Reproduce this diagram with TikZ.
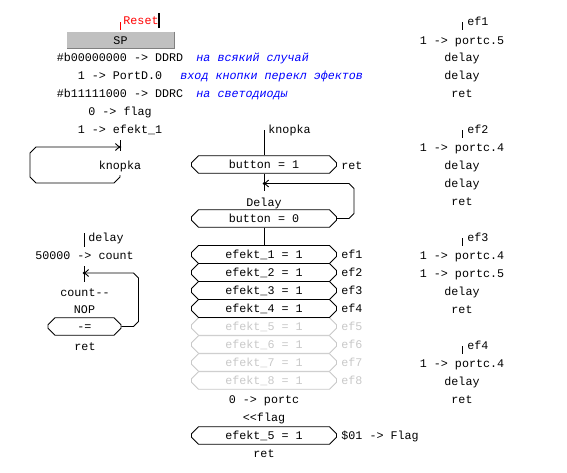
\documentclass[tikz,border=0pt]{standalone}
\usepackage{fontspec}
\setmonofont{Liberation Mono}
\usetikzlibrary{arrows.meta,positioning,shapes.misc}

\definecolor{spgray}{RGB}{192,192,192}
\definecolor{offgray}{RGB}{200,200,200}

\begin{document}
\begin{tikzpicture}[
    x=1pt, y=-1pt, line width=0.9pt,
    every node/.style={font=\ttfamily\fontsize{11.7}{14}\selectfont,
                       inner sep=0pt,text height=9.5pt,text depth=1pt},
    cmt/.style={anchor=west,text=blue,font=\ttfamily\itshape\fontsize{11.7}{14}\selectfont},
    lbl/.style={anchor=west},
    cond/.style={draw,chamfered rectangle,chamfered rectangle sep=3.5pt,
                 minimum width=145pt,minimum height=17pt},
    off/.style={draw=offgray,text=offgray},
    jump/.style={-{Straight Barb[length=4pt,width=7pt]}},
    jdot/.style={circle,fill,inner sep=0pt,minimum size=2.6pt,
                 text height=0pt,text depth=0pt},
  ]
  \useasboundingbox (0,0) rectangle (567,472);

  % reset entry
  \coordinate (rst) at (120,22);
  \draw[red] (rst) -- ++(0,8);
  \node[lbl,text=red] (reset) at (123,20) {Reset};
  \draw[line width=2pt] (159,13) -- (159,28);
  \node[fill=spgray,minimum width=107pt,minimum height=16pt] (sp) at (120.5,40) {SP};
  \draw[gray] (sp.north east) -- (sp.south east) -- (sp.south west);

  % init
  \node (i1) at (120,57)  {\#b00000000 -> DDRD};
  \node (i2) at (120,75)  {1 -> PortD.0};
  \node (i3) at (120,93)  {\#b11111000 -> DDRC};
  \node (i4) at (120,111) {0 -> flag};
  \node (i5) at (120,129) {1 -> efekt\_1};
  \node[cmt] (c1) at (196,57) {на всякий случай};
  \node[cmt] (c2) at (180,75) {вход кнопки перекл эфектов};
  \node[cmt] (c3) at (196,93) {на светодиоды};

  % main loop
  \coordinate (kt) at (120,140);
  \coordinate (ka) at (120,147);
  \coordinate (kb) at (120,175);
  \node (kcall) at (120,165) {knopka};
  \draw (kt) -- ++(0,11);
  \draw[jump] (kb) -- ++(0,2) -- ++(-6,6) -- (36,183) -- ++(-6,-6)
              -- (30,153) -- ++(6,-6) -- (ka);
  \node[jdot] (kd) at (ka) {};

  % knopka
  \node[lbl] (knopka) at (268,129) {knopka};
  \node[cond] (b1) at (264,164.5) {button = 1};
  \node[lbl] (ret1) at (341,165) {ret};
  \coordinate (bt) at (264,130);
  \coordinate (ba) at (264,183.5);
  \draw (bt) -- (b1.north);
  \draw (b1.south) -- ++(0,17);
  \node (dly) at (264,202) {Delay};
  \node[cond] (b0) at (264,218.5) {button = 0};
  \draw[jump] (b0.east) -- ++(12,0) -- ++(5,-5) -- ++(0,-25) -- ++(-5,-5) -- (ba);
  \node[jdot] (bd) at (ba) {};

  % effect switch
  \foreach \i in {8,7,6,5} {
    \node[cond,off] (e\i) at (264,{254.5+18*(\i-1)}) {efekt\_\i{} = 1};
    \node[lbl,text=offgray] (m\i) at (341,{254.5+18*(\i-1)}) {ef\i};
  }
  \foreach \i in {4,3,2,1} {
    \node[cond,minimum height=18pt] (e\i) at (264,{254.5+18*(\i-1)}) {efekt\_\i{} = 1};
    \node[lbl] (m\i) at (341,{254.5+18*(\i-1)}) {ef\i};
  }
  \draw (b0.south) -- (e1.north);
  \node (p0) at (264,399) {0 -> portc};
  \node (shl) at (264,417) {<<flag};
  \node[cond] (e5b) at (264,435.5) {efekt\_5 = 1};
  \node[lbl] (fl) at (341,435) {\$01 -> Flag};
  \node (ret2) at (264,453) {ret};

  % delay
  \coordinate (dt) at (84,233);
  \coordinate (da) at (84,273);
  \draw (dt) -- ++(0,14);
  \node[lbl] (delay) at (88,237) {delay};
  \node (cnt) at (84.5,255) {50000 -> count};
  \draw (84,266) -- (84,282);
  \node (dec) at (85,292) {count--};
  \node (nop) at (84.5,309) {NOP};
  \node[cond,minimum width=73pt] (ne) at (84.5,326.5) {-=};
  \draw[jump] (ne.east) -- ++(12,0) -- ++(5,-5) -- ++(0,-43.5) -- ++(-5,-5) -- (da);
  \node[jdot] (dd) at (da) {};
  \node (dret) at (85,346) {ret};

  % effects
  \foreach \n/\y in {1/21,2/129,3/237,4/345} {
    \draw (462,\y+1) -- ++(0,8);
    \node[lbl] (h\n) at (467,\y) {ef\n};
  }
  \foreach \t/\y [count=\k] in {1 -> portc.5/40,delay/57,delay/75,ret/93,
                                1 -> portc.4/147,delay/165,delay/183,ret/201,
                                1 -> portc.4/255,1 -> portc.5/273,delay/291,ret/309,
                                1 -> portc.4/363,delay/381,ret/399}
    \node (r\k) at (462,\y) {\t};

\end{tikzpicture}
\end{document}
